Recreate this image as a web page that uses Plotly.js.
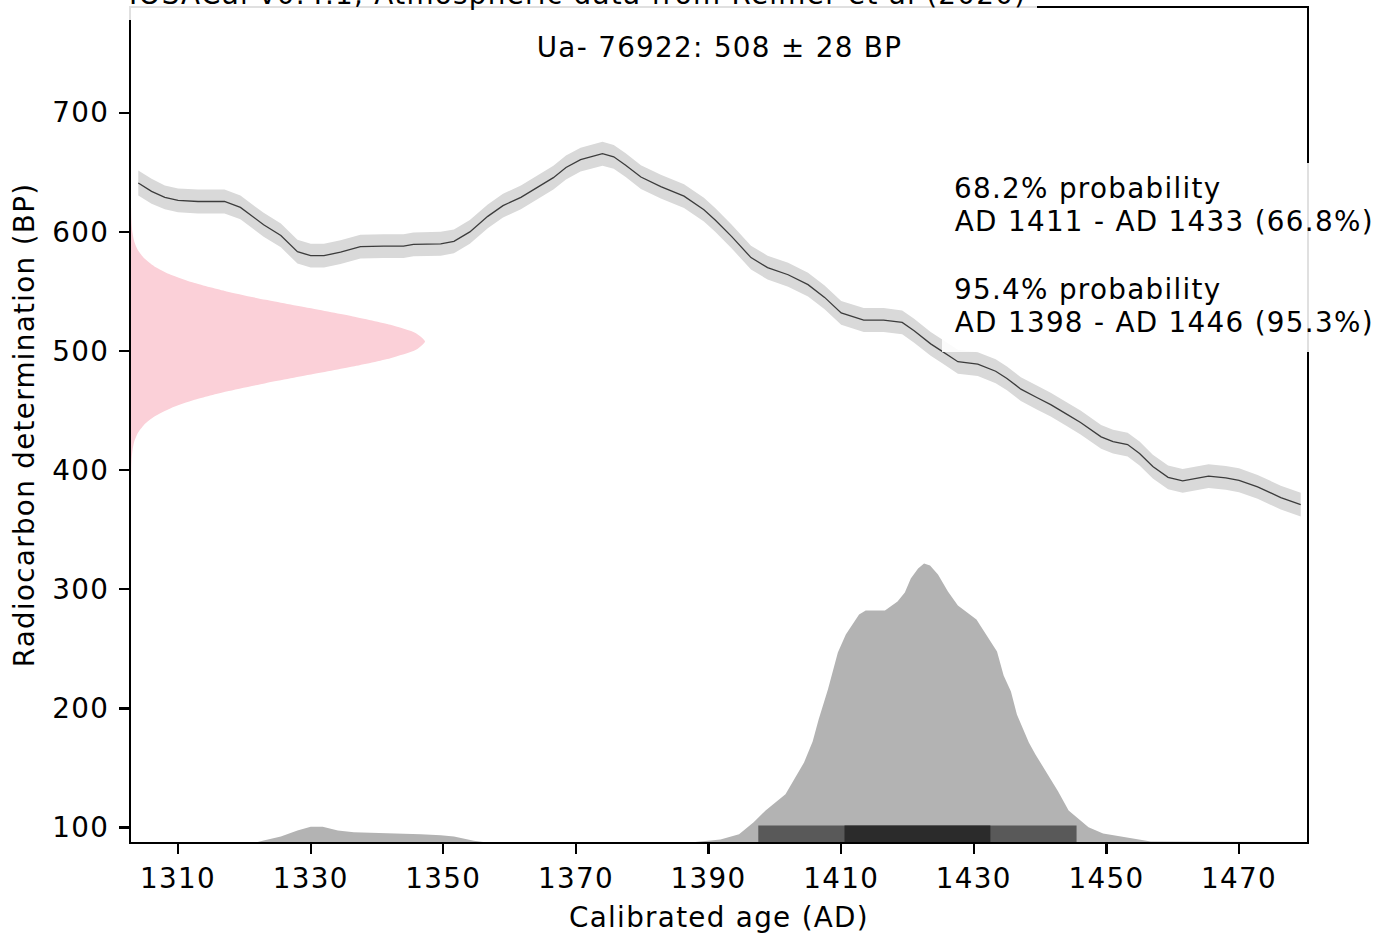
<!DOCTYPE html>
<html>
<head>
<meta charset="utf-8">
<script src="https://cdn.plot.ly/plotly-3.0.1.min.js"></script>
<style>
html,body{margin:0;padding:0;background:#fff;}
#chart{width:1389px;height:934px;}
#chart svg text{letter-spacing:1.3px;}
</style>
</head>
<body>
<div id="chart"></div>
<script>
// ---------------- data ----------------
const sampleLabel = 'Ua- 76922: 508 ± 28 BP';
const curveSource = 'IOSACal v0.4.1, Atmospheric data from Reimer et al (2020)';
const xTicks = [1310, 1330, 1350, 1370, 1390, 1410, 1430, 1450, 1470];
const yTicks = [100, 200, 300, 400, 500, 600, 700];
const xRange = [1302.9, 1480.25];
const yRange = [87.9, 787.9];

// calibration curve (IntCal20)
const calYears = [1304, 1306, 1308, 1310, 1313, 1317, 1319.4, 1322.9, 1325.5, 1328, 1330, 1332, 1334.5, 1337.5, 1341, 1344, 1345.5, 1349.6, 1351.6, 1354, 1356.7, 1359, 1361.7, 1364, 1366.6, 1368.5, 1370.7, 1374, 1375.7, 1377.5, 1379.8, 1382.8, 1386.3, 1389.3, 1391, 1393.5, 1396.4, 1398.9, 1402, 1405, 1407.5, 1410, 1413.4, 1416.4, 1419.2, 1421, 1423.5, 1425.3, 1427.6, 1430.6, 1433.3, 1435, 1437.1, 1439.5, 1441.6, 1444, 1446.1, 1449.2, 1451, 1453.2, 1455, 1457, 1459.3, 1461.5, 1465.4, 1468, 1470, 1472.8, 1476.3, 1479.3];
const calBP = [641, 634, 629, 626.5, 625.5, 625.5, 620.5, 606, 597, 583.4, 580, 580, 583, 587.6, 588, 588, 589.5, 590, 592, 600, 613, 622, 629, 637, 645.5, 654, 660.6, 665.6, 663, 656, 646, 638, 630, 618.6, 610, 596, 578.4, 570, 564, 555.7, 545, 532, 526, 526, 524, 517, 506, 499.5, 491, 489, 483, 477, 468, 461, 455, 447, 440, 428, 424, 421.5, 414, 403, 394, 391, 395, 393.5, 391.5, 386, 377, 371];
const calSigma = [10.5, 10.5, 10, 10, 10, 10, 10, 10, 10, 10, 10, 10, 10, 10, 10, 10, 10, 10, 10, 10, 10, 10, 10, 10, 10, 10, 10, 10, 10, 10, 10, 10, 10, 10, 10, 10, 10, 10, 10, 10, 10, 10, 10, 10, 10, 10, 10, 10, 10, 10, 10, 10, 10, 10, 10, 10, 10, 10, 10, 10, 10, 10, 10, 10, 10, 10, 10, 10, 10, 10];

// radiocarbon determination (pink), width in years from the left axis edge
const dateBP = [396, 403, 410, 417, 424, 431, 438, 445, 452, 459, 466, 473, 480, 487, 494, 501, 508, 515, 522, 529, 536, 543, 550, 557, 564, 571, 578, 585, 592, 599, 606, 613, 620];
const dateWidth = [0.015, 0.04, 0.10, 0.23, 0.49, 1.01, 1.95, 3.53, 6.00, 9.59, 14.40, 20.30, 26.89, 33.47, 39.13, 42.97, 44.34, 42.97, 39.13, 33.47, 26.89, 20.30, 14.40, 9.59, 6.00, 3.53, 1.95, 1.01, 0.49, 0.23, 0.10, 0.04, 0.015];

// calibrated age distribution (gray), top edge in axis units
const distYears = [1303, 1322, 1322.9, 1325.5, 1328, 1330, 1331.8, 1334.1, 1336.5, 1344, 1346.6, 1349.6, 1351.6, 1354.6, 1356, 1388, 1388.8, 1391.8, 1394.6, 1396.8, 1398.6, 1401.6, 1404.4, 1405.7, 1406.6, 1408, 1409.5, 1410.7, 1412.7, 1413.7, 1416.6, 1418.5, 1419.6, 1420.5, 1421.6, 1422.5, 1423.4, 1424.6, 1426.1, 1427.6, 1430.4, 1433.5, 1434.5, 1435.6, 1436.5, 1438.3, 1439.3, 1441.2, 1442.7, 1444.3, 1445.8, 1447.3, 1449.5, 1453.2, 1456.7, 1480];
const distTop = [87.9, 87.9, 89.1, 92.5, 97.5, 100.8, 100.8, 97.5, 96, 95.1, 94.3, 93.5, 92.5, 89, 87.9, 87.9, 88.3, 90.1, 94.3, 104.4, 114.4, 127.9, 154.7, 172.3, 190.8, 215.9, 247, 262.1, 278.9, 282.2, 282.2, 289.8, 297.3, 309.1, 317.4, 321.6, 320, 312.4, 298.2, 286.4, 274.7, 247.8, 227.7, 214.3, 195, 171.5, 161.4, 144.6, 130.4, 114.4, 106.9, 100.2, 95.1, 91.8, 88.3, 87.9];

// HPD intervals
const hpdLabels = ['95.4% probability', '68.2% probability'];
const hpdStart = [1398, 1411];
const hpdEnd = [1446, 1433];
const hpdText = [
  ['68.2% probability', 'AD 1411 - AD 1433 (66.8%)'],
  ['95.4% probability', 'AD 1398 - AD 1446 (95.3%)']
];

// ---------------- drawing ----------------
const FONT = 'DejaVu Sans, Verdana, sans-serif';
const FS = 27.8;

const upper = calBP.map((v, i) => v + calSigma[i]);
const lower = calBP.map((v, i) => v - calSigma[i]);

const traces = [
  { // pink radiocarbon date
    x: dateWidth.map(w => xRange[0] + w), y: dateBP,
    type: 'scatter', mode: 'lines', fill: 'tozerox',
    fillcolor: '#fbd0d8', line: {width: 0, color: '#fbd0d8', shape: 'spline', smoothing: 0.6},
    hoverinfo: 'skip'
  },
  { x: calYears, y: upper, type: 'scatter', mode: 'lines', line: {width: 0, color: '#d9d9d9'}, hoverinfo: 'skip' },
  { x: calYears, y: lower, type: 'scatter', mode: 'lines', fill: 'tonexty', fillcolor: '#d9d9d9', line: {width: 0, color: '#d9d9d9'}, hoverinfo: 'skip' },
  { x: calYears, y: calBP, type: 'scatter', mode: 'lines', line: {width: 1.3, color: '#3c3c3c'}, hoverinfo: 'skip' },
  { // calibrated distribution
    x: distYears, y: distTop, type: 'scatter', mode: 'lines', fill: 'tozeroy',
    fillcolor: '#b3b3b3', line: {width: 0, color: '#b3b3b3'}, hoverinfo: 'skip'
  }
];

// HPD range bars drawn as filled rectangles (bar layer would sit under the fills)
const hpdColors = ['#595959', '#2b2b2b'];
const barBottom = yRange[0], barTop = 101.8;
hpdStart.forEach((s, i) => {
  const a = s - 0.5, b = hpdEnd[i] - 0.5;
  traces.push({
    type: 'scatter', mode: 'lines', name: hpdLabels[i], fill: 'toself',
    x: [a, b, b, a, a], y: [barBottom, barBottom, barTop, barTop, barBottom],
    fillcolor: hpdColors[i], line: {width: 0, color: hpdColors[i]}, hoverinfo: 'skip'
  });
});

const plotTop = 8, plotBottom = 842, plotLeft = 131, plotRight = 1307;
const ph = plotBottom - plotTop, pw = plotRight - plotLeft;
const py = px => (plotBottom - px) / ph;
const pxx = px => (px - plotLeft) / pw;

// text blocks are centred (letter spacing is not part of Plotly's measured width)
const annotations = [
  {text: sampleLabel, x: pxx(719), y: py(47)},
  {text: curveSource, x: pxx(577), y: py(-6)},
  {text: hpdText[0][0], x: pxx(1087.5), y: py(188.3)},
  {text: hpdText[0][1], x: pxx(1164), y: py(221.7)},
  {text: hpdText[1][0], x: pxx(1087.5), y: py(289.3)},
  {text: hpdText[1][1], x: pxx(1164), y: py(322.7)}
].map(a => Object.assign({xref: 'paper', yref: 'paper', showarrow: false, borderpad: 0,
  xanchor: 'center', yanchor: 'middle',
  font: {family: FONT, size: FS, color: '#000'}}, a));

const shapes = [
  {type: 'rect', xref: 'paper', yref: 'paper', layer: 'above',
   x0: pxx(105), x1: pxx(1037), y0: py(20), y1: py(-40),
   fillcolor: 'rgba(255,255,255,0.88)', line: {width: 0}},
  {type: 'rect', xref: 'paper', yref: 'paper', layer: 'above',
   x0: pxx(942), x1: pxx(1400), y0: py(352), y1: py(163),
   fillcolor: 'rgba(255,255,255,0.88)', line: {width: 0}}
];

const axisCommon = {
  showgrid: false, zeroline: false, showline: true, mirror: true,
  linecolor: '#000', linewidth: 2.2, ticks: 'outside', ticklen: 10, tickwidth: 2.2,
  tickcolor: '#000', tickfont: {family: FONT, size: FS, color: '#000'}, automargin: false
};

const layout = {
  width: 1389, height: 934, autosize: false,
  margin: {l: plotLeft, r: 1389 - plotRight, t: plotTop, b: 934 - plotBottom, pad: 0},
  paper_bgcolor: '#fff', plot_bgcolor: '#fff', showlegend: false,
  xaxis: Object.assign({}, axisCommon, {
    range: xRange, tickvals: xTicks, ticktext: xTicks.map(String), ticklabelstandoff: 0,
    title: {text: 'Calibrated age (AD)', font: {family: FONT, size: FS, color: '#000'}, standoff: 24}
  }),
  yaxis: Object.assign({}, axisCommon, {
    range: yRange, tickvals: yTicks, ticktext: yTicks.map(String), ticklabelstandoff: 4,
    title: {text: 'Radiocarbon determination (BP)', font: {family: FONT, size: FS, color: '#000'}, standoff: 14}
  }),
  annotations: annotations,
  shapes: shapes
};

Plotly.newPlot('chart', traces, layout, {displayModeBar: false, staticPlot: true});
</script>
</body>
</html>
